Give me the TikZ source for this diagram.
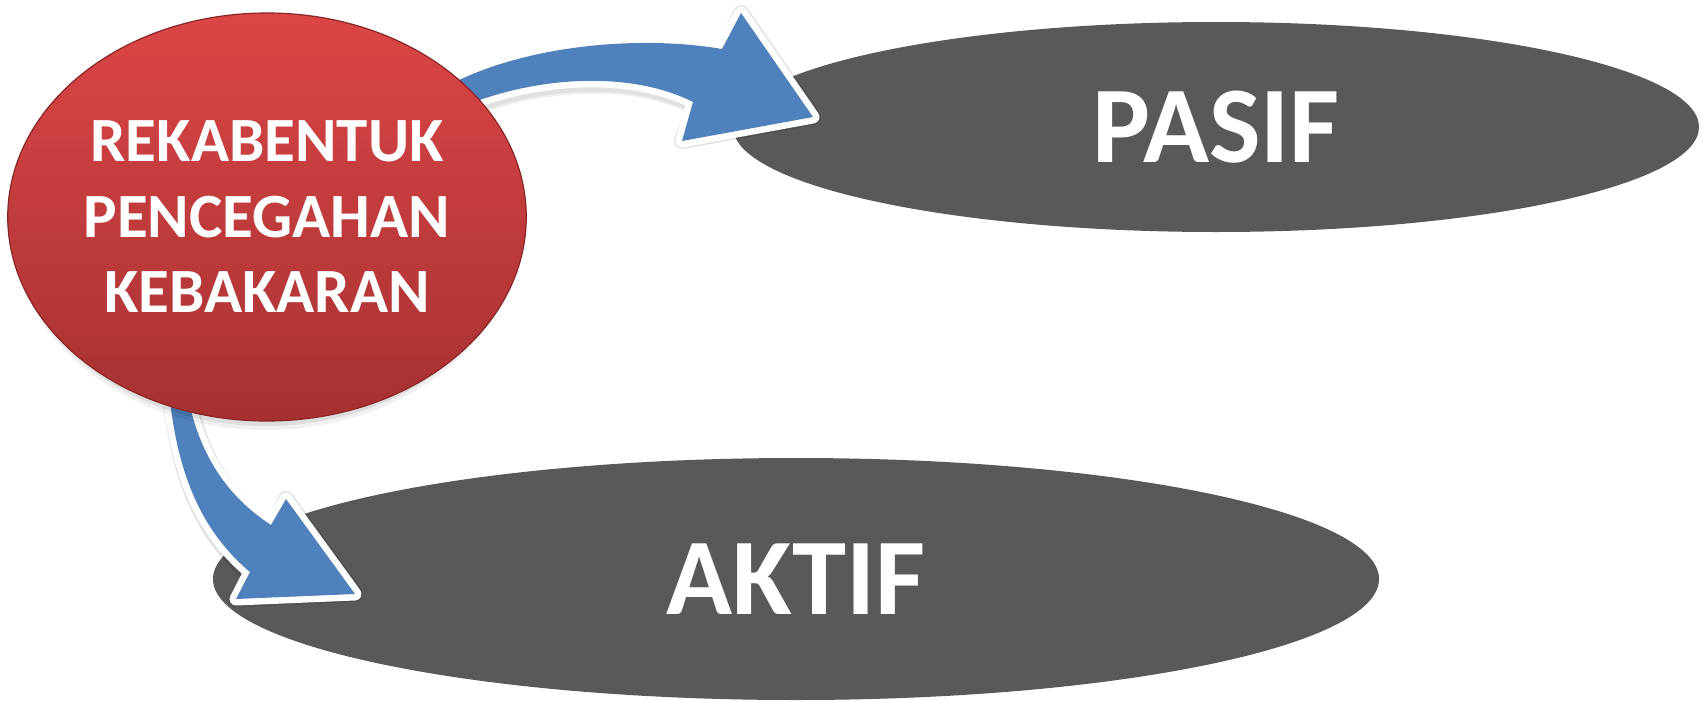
\documentclass[tikz,border=0pt]{standalone}
\usepackage{fontspec}
\setmainfont{Carlito}
\usetikzlibrary{shapes.geometric}
\definecolor{grayfill}{HTML}{595959}
\definecolor{arrowblue}{HTML}{4F81BD}
\definecolor{redtop}{HTML}{DB4646}
\definecolor{redbot}{HTML}{A63131}
\definecolor{redrim}{HTML}{8C2626}
\newcommand\UpArrowShape[1]{\path[#1] (450,112) .. controls (530,75) and (630,70) .. (693,102) -- (hUa) -- (hUtip) -- (hUb) -- (722,49) .. controls (640,35) and (530,45) .. (455,82) -- (428,95) -- cycle;}
\newcommand\DownArrowShape[1]{\path[#1] (168,380) .. controls (175,470) and (200,530) .. (250,572) -- (hDa) -- (hDtip) -- (hDb) -- (271,525) .. controls (225,495) and (195,450) .. (185,380) -- cycle;}
\begin{document}
\begin{tikzpicture}[x=1pt,y=-1pt,
  target/.style={ellipse, fill=grayfill, inner sep=0pt, text=white,
    font=\fontsize{109}{130}\selectfont\bfseries},
  hub/.style={ellipse, top color=redtop, bottom color=redbot, draw=redrim, line width=1.2pt,
    inner sep=0pt, text=white, align=center,
    font=\fontsize{63}{75.5}\selectfont\bfseries},
  arrowshadow/.style={fill=black, fill opacity=0.08, draw=black, draw opacity=0.06, line width=16pt, line join=round},
  blockarrow/.style={fill=arrowblue, preaction={draw=white, line width=13pt, line join=round}}
]
\useasboundingbox (0,0) rectangle (1707,701);
\fill[white] (0,0) rectangle (1707,701);

% target ellipses
\node[target, minimum width=966pt, minimum height=210pt] (pasif) at (1216,127) {PASIF};
\node[target, minimum width=1166pt, minimum height=242pt] (aktif) at (796,579) {AKTIF};

% arrow head points
\coordinate (hUa) at (682,141);
\coordinate (hUtip) at (813,117);
\coordinate (hUb) at (741,13);
\coordinate (hDa) at (236,599);
\coordinate (hDtip) at (355,594);
\coordinate (hDb) at (286,499);

% arrows with soft shadows
\UpArrowShape{arrowshadow, shift={(2,5)}}
\UpArrowShape{arrowshadow, shift={(1,3)}}
\UpArrowShape{blockarrow}
\DownArrowShape{arrowshadow, shift={(2,5)}}
\DownArrowShape{arrowshadow, shift={(1,3)}}
\DownArrowShape{blockarrow}

% hub shadow
\fill[black, opacity=0.06] (266,223) ellipse [x radius=255, y radius=207];
\fill[black, opacity=0.08] (266,220) ellipse [x radius=254, y radius=206];

% hub
\node[hub, minimum width=506pt, minimum height=408pt] (hub) at (267,217)
  {REKABENTUK\\PENCEGAHAN\\KEBAKARAN};
\end{tikzpicture}
\end{document}
